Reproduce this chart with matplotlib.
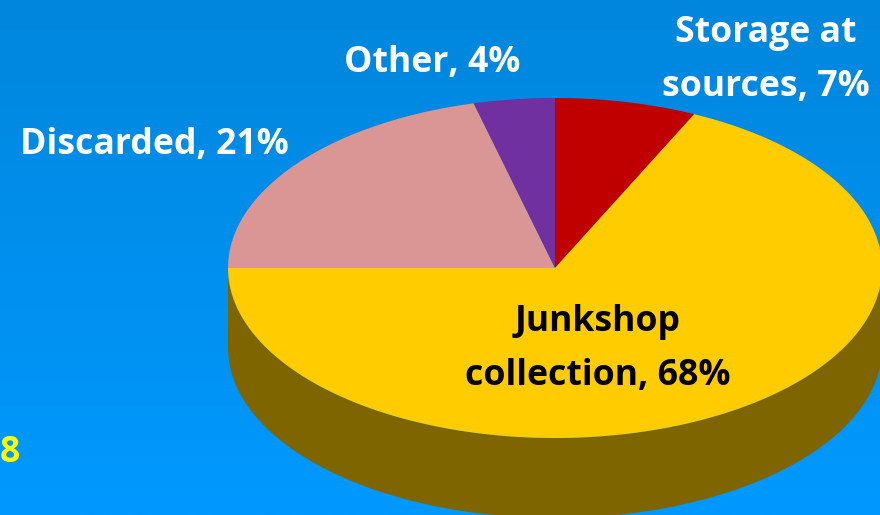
import matplotlib
matplotlib.use("Agg")
import matplotlib.pyplot as plt
from matplotlib.colors import LinearSegmentedColormap
import numpy as np

plt.rcParams['font.family'] = ['Open Sans', 'DejaVu Sans']

# pie data, clockwise from the top
labels = ["Storage at\nsources, 7%", "Junkshop\ncollection, 68%", "Discarded, 21%", "Other, 4%"]
values = [7, 68, 21, 4]
colors = ["#C00000", "#FFCC00", "#D99694", "#7030A0"]
side_color = "#7F6500"
footnote = "8"

W, H = 880, 515
fig = plt.figure(figsize=(W / 100, H / 100), dpi=100)
ax = fig.add_axes([0, 0, 1, 1])

# blue background, a bit darker at the top
bg = LinearSegmentedColormap.from_list("bg", ["#0086DC", "#0099FF"])
ax.imshow(np.linspace(0, 1, 256).reshape(-1, 1), cmap=bg, aspect="auto",
          extent=[0, W, H, 0], zorder=0)

cx, cy = 555, 268
rx, ry = 327, 170
depth = 80

# side wall, front half of the ellipse pushed down
t = np.radians(np.linspace(0, 180, 200))
xs = cx + rx * np.cos(t)
ys = cy + ry * np.sin(t)
ax.fill(np.r_[xs, xs[::-1]], np.r_[ys, ys[::-1] + depth], color=side_color, lw=0, zorder=1)

# top of the pie, going clockwise from 12 o'clock
start = -90.0
for v, c in zip(values, colors):
    end = start + v / sum(values) * 360
    t = np.radians(np.linspace(start, end, 200))
    ax.fill(np.r_[cx, cx + rx * np.cos(t)], np.r_[cy, cy + ry * np.sin(t)],
            color=c, lw=0, zorder=2)
    start = end

ax.text(766, 60, labels[0], color="white", fontsize=25.7, fontweight="bold",
        ha="center", va="center", linespacing=1.7, zorder=3)
ax.text(598, 349, labels[1], color="black", fontsize=25.7, fontweight="bold",
        ha="center", va="center", linespacing=1.7, zorder=3)
ax.text(154, 145, labels[2], color="white", fontsize=25.7, fontweight="bold",
        ha="center", va="center", zorder=3)
ax.text(432, 63, labels[3], color="white", fontsize=25.7, fontweight="bold",
        ha="center", va="center", zorder=3)
ax.text(0, 453, footnote, color="#FFFF00", fontsize=25.7, fontweight="bold",
        ha="left", va="center", zorder=3)

ax.set_xlim(0, W)
ax.set_ylim(H, 0)
ax.axis("off")

fig.savefig("out.png", dpi=100)
